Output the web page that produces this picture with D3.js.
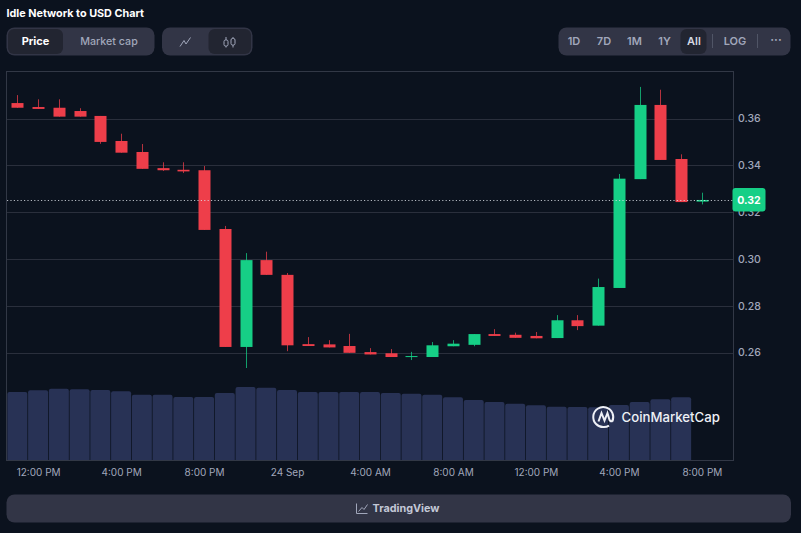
<!DOCTYPE html>
<html>
<head>
<meta charset="utf-8">
<title>Idle Network to USD Chart</title>
<script src="https://cdn.jsdelivr.net/npm/d3@7"></script>
<style>
	html, body { margin: 0; padding: 0; background: #0b121e; overflow: hidden; }
	svg { display: block; }
	text { font-family: Inter, "Noto Sans", sans-serif; }
</style>
</head>
<body>
<div id="my_dataviz"></div>
<script>
// hourly candles
var opens = [.3666, .3649, .3646, .3632, .3611, .3504, .3457, .3388, .3381, .3379, .3128, .2624, .2995, .2932, .2636, .2635, .2628, .2602, .2597, .2581, .2581, .2627, .2633, .2679, .2676, .2671, .2662, .2738, .2715, .2876, .3341, .3658, .3427, .3245];
var highs = [.3700, .3682, .3682, .3644, .3611, .3535, .3491, .3413, .3413, .3397, .3141, .3025, .3031, .2940, .2666, .2653, .2680, .2619, .2615, .2603, .2645, .2653, .2679, .2700, .2685, .2688, .2760, .2760, .2916, .3363, .3735, .3723, .3447, .3283];
var lows = [.3646, .3641, .3608, .3608, .3492, .3454, .3385, .3376, .3367, .3124, .2624, .2534, .2932, .2606, .2628, .2622, .2599, .2592, .2581, .2568, .2581, .2627, .2627, .2671, .2663, .2661, .2662, .2696, .2715, .2876, .3341, .3423, .3243, .3233];
var closes = [.3646, .3641, .3608, .3608, .3500, .3454, .3385, .3379, .3374, .3124, .2624, .2995, .2932, .2631, .2628, .2622, .2599, .2592, .2581, .2585, .2631, .2638, .2679, .2671, .2663, .2661, .2738, .2713, .2880, .3343, .3658, .3423, .3243, .3252];

// volume has no axis in the picture, so the units here are arbitrary
var volumes = [68, 69.7, 71.3, 70.7, 70, 68.7, 65.3, 65.3, 63, 63, 67, 73, 72.3, 70, 68, 68, 68, 68, 67, 66.3, 65.3, 62.7, 60, 58, 56.3, 54.7, 53.3, 53, 52.7, 55, 58, 60.7, 62.7];

var priceTicks = [0.26, 0.28, 0.30, 0.32, 0.34, 0.36];
var lastPrice = 0.325;
var lastPriceLabel = "0.32";

var startTime = new Date(2023, 8, 23, 11);
var hourMs = 3600000;
var timeTicks = [1, 5, 9, 13, 17, 21, 25, 29, 33].map(function(h) {
	return new Date(+startTime + h * hourMs);
});

var chartTitle = "Idle Network to USD Chart";
var rangeButtons = ["1D", "7D", "1M", "1Y", "All", "LOG"];

var width = 801, height = 533;
var margin = {top: 71, right: 733, bottom: 460, left: 7};
var green = "#16cf86", red = "#ee3e4a";
var panel = "#323546", panelDark = "#222531", muted = "#a1a7bb";

var svg = d3.select("#my_dataviz")
	.append("svg")
		.attr("width", width)
		.attr("height", height);

var x = d3.scaleTime()
	.domain([new Date(+startTime - hourMs / 2), new Date(+startTime + 34.5 * hourMs)])
	.range([margin.left, margin.right]);

var y = d3.scaleLinear()
	.domain([0.2141, 0.3803])
	.range([margin.bottom, margin.top]);

var yVolume = d3.scaleLinear()
	.domain([0, 100])
	.range([margin.bottom, margin.bottom - 100]);

function timeAt(i) {
	return new Date(+startTime + i * hourMs);
}

// ---- top buttons ----
svg.append("text")
	.attr("x", 6.5)
	.attr("y", 17)
	.attr("fill", "#fff")
	.style("font-size", "10.8px")
	.style("font-weight", 700)
	.text(chartTitle);

function box(left, right, top, bottom, fill, r) {
	svg.append("rect")
		.attr("x", left)
		.attr("y", top)
		.attr("width", right - left)
		.attr("height", bottom - top)
		.attr("rx", r)
		.attr("fill", fill);
}

function label(cx, cy, str, fill, size, weight) {
	return svg.append("text")
		.attr("x", cx)
		.attr("y", cy)
		.attr("dy", "0.36em")
		.attr("text-anchor", "middle")
		.attr("fill", fill)
		.style("font-size", size + "px")
		.style("font-weight", weight)
		.text(str);
}

box(6.5, 154.5, 27.5, 55.5, panel, 8);
box(8, 63, 29, 54, panelDark, 6);
label(35.5, 41.5, "Price", "#fff", 11, 700);
label(109, 41.5, "Market cap", muted, 10.7, 500);

box(162, 252.5, 27.5, 55.5, panel, 8);
box(208.5, 251, 29, 54, panelDark, 6);
// line icon
svg.append("path")
	.attr("d", "M180,46.5L184,40.5L186,44L190.5,37.5")
	.attr("fill", "none")
	.attr("stroke", muted)
	.attr("stroke-width", 1);
// candle icon
svg.append("path")
	.attr("d", "M226,37V40M226,46V47.5M233,37V38.5M233,45V47.5")
	.attr("stroke", muted)
	.attr("fill", "none");
svg.append("rect").attr("x", 224).attr("y", 40).attr("width", 4).attr("height", 6).attr("rx", 1.5)
	.attr("fill", "none").attr("stroke", muted);
svg.append("rect").attr("x", 231).attr("y", 38.5).attr("width", 4).attr("height", 6.5).attr("rx", 1.5)
	.attr("fill", "none").attr("stroke", muted);

box(558.5, 790.5, 27.5, 55.5, panel, 8);
box(680.5, 706.5, 29, 54, panelDark, 6);
var rangeCenters = [574, 604, 634.5, 664.5, 694, 735];
rangeButtons.forEach(function(d, i) {
	label(rangeCenters[i], 41.5, d, d === "All" ? "#d5d8e2" : muted, 11, 600);
});
svg.selectAll("sep")
	.data([712.5, 757.5])
	.enter()
	.append("line")
		.attr("x1", function(d) { return d; })
		.attr("x2", function(d) { return d; })
		.attr("y1", 34)
		.attr("y2", 48)
		.attr("stroke", "#505566");
label(776, 39.5, "···", muted, 12, 600);

// ---- volume bars, behind the grid ----
function barPath(d, i) {
	var cx = x(timeAt(i)), w = 20, r = 2, top = yVolume(d), bottom = yVolume(0);
	var p = d3.path();
	p.moveTo(cx - w / 2, bottom);
	p.lineTo(cx - w / 2, top + r);
	p.quadraticCurveTo(cx - w / 2, top, cx - w / 2 + r, top);
	p.lineTo(cx + w / 2 - r, top);
	p.quadraticCurveTo(cx + w / 2, top, cx + w / 2, top + r);
	p.lineTo(cx + w / 2, bottom);
	p.closePath();
	return p.toString();
}

svg.append("g")
	.selectAll("path")
	.data(volumes)
	.enter()
	.append("path")
		.attr("d", barPath)
		.attr("fill", "#283255");

// grid
svg.append("g")
	.selectAll("line")
	.data(priceTicks)
	.enter()
	.append("line")
		.attr("x1", margin.left)
		.attr("x2", margin.right)
		.attr("y1", function(d) { return Math.round(y(d)) + 0.5; })
		.attr("y2", function(d) { return Math.round(y(d)) + 0.5; })
		.attr("stroke", "#2a2f3c");

// frame
svg.append("rect")
	.attr("x", 6.5)
	.attr("y", 71.5)
	.attr("width", margin.right - 6)
	.attr("height", margin.bottom - margin.top)
	.attr("fill", "none")
	.attr("stroke", "#323846");

// axes
var xAxis = d3.axisBottom(x)
	.tickValues(timeTicks)
	.tickSize(0)
	.tickPadding(0)
	.tickFormat(function(d) {
		return d.getHours() === 0 ? d3.timeFormat("%-d %b")(d) : d3.timeFormat("%-I:%M %p")(d);
	});
var xAxisG = svg.append("g")
	.attr("transform", "translate(0," + (margin.bottom + 9) + ")")
	.call(xAxis);
xAxisG.select(".domain").remove();
xAxisG.selectAll("text").attr("fill", muted).style("font-size", "10px").style("font-family", "Inter, sans-serif");

var yAxis = d3.axisRight(y)
	.tickValues(priceTicks)
	.tickSize(0)
	.tickPadding(0)
	.tickFormat(d3.format(".2f"));
var yAxisG = svg.append("g")
	.attr("transform", "translate(" + (margin.right + 5) + ",0)")
	.call(yAxis);
yAxisG.select(".domain").remove();
yAxisG.selectAll("text").attr("fill", muted).style("font-size", "10.5px").style("font-weight", 500).style("font-family", "Inter, sans-serif");

// ---- candles ----
var candles = svg.append("g")
	.selectAll("g")
	.data(opens.map(function(d, i) {
		return {i: i, open: d, high: highs[i], low: lows[i], close: closes[i]};
	}))
	.enter()
	.append("g");

candles.append("line")
	.attr("x1", function(d) { return Math.round(x(timeAt(d.i))) + 0.5; })
	.attr("x2", function(d) { return Math.round(x(timeAt(d.i))) + 0.5; })
	.attr("y1", function(d) { return y(d.high); })
	.attr("y2", function(d) { return y(d.low); })
	.attr("stroke", function(d) { return d.close >= d.open ? green : red; })
	.attr("stroke-opacity", 0.75);

candles.append("rect")
	.attr("x", function(d) { return Math.round(x(timeAt(d.i))) + 0.5 - 6; })
	.attr("width", 12)
	.attr("y", function(d) { return y(Math.max(d.open, d.close)); })
	.attr("height", function(d) { return Math.max(1, Math.abs(y(d.open) - y(d.close))); })
	.attr("fill", function(d) { return d.close >= d.open ? green : red; });

// current price line and tag
svg.append("line")
	.attr("x1", margin.left)
	.attr("x2", margin.right)
	.attr("y1", Math.round(y(lastPrice)) + 0.5)
	.attr("y2", Math.round(y(lastPrice)) + 0.5)
	.attr("stroke", "#dfe3ea")
	.attr("stroke-opacity", 0.8)
	.attr("stroke-dasharray", "1.2 2.2");

box(732.5, 765.5, y(lastPrice) - 12.5, y(lastPrice) + 11, green, 3);
label(749, y(lastPrice) - 0.5, lastPriceLabel, "#fff", 10.5, 700);

// ---- watermark ----
svg.append("path")
	.attr("d", "M612.2,421.5A10,10 0 1 0 604,427A10,10 0 0 0 609,425.6")
	.attr("fill", "none")
	.attr("stroke", "#eef0f6")
	.attr("stroke-width", 2);
svg.append("path")
	.attr("d", "M598.5,421.5L601.5,413L604.5,420.5L607.5,413L609.5,420Q610.5,422 612.5,421")
	.attr("fill", "none")
	.attr("stroke", "#eef0f6")
	.attr("stroke-width", 2);
svg.append("text")
	.attr("x", 621.5)
	.attr("y", 422)
	.attr("fill", "#eef0f6")
	.style("font-size", "13.2px")
	.style("font-weight", 500)
	.text("CoinMarketCap");

// ---- bottom bar ----
box(6.5, 791, 494.5, 522.5, panel, 8);
svg.append("path")
	.attr("d", "M356.5,503.5V513.5H367.5M358.5,511.5L362,507.5L364,509.5L367.5,504.5")
	.attr("fill", "none")
	.attr("stroke", muted);
label(406, 508.5, "TradingView", "#c3c8d6", 10.8, 700);
</script>
</body>
</html>
